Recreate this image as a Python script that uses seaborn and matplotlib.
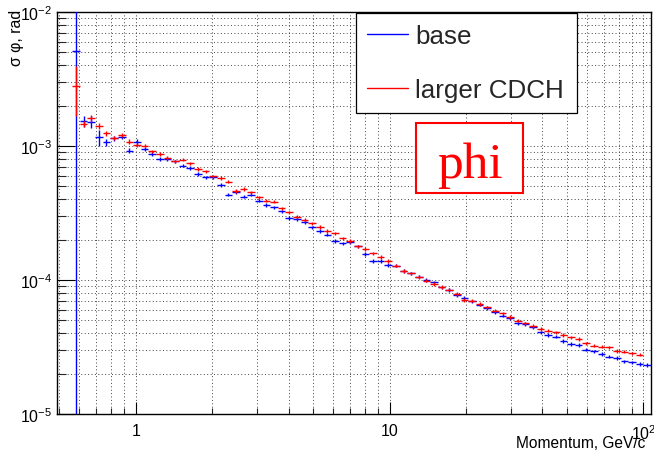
import numpy as np
import matplotlib
matplotlib.use("Agg")
import matplotlib.pyplot as plt
import seaborn as sns
from matplotlib.lines import Line2D
from matplotlib.patches import Rectangle
from matplotlib.ticker import FixedLocator, FixedFormatter, LogLocator, NullFormatter

# ---- binning: logarithmic momentum bins, 0.03 decade wide ----
log_p_first_edge = -0.25
log_bin_width = 0.03
n_bins = 76
edges = 10 ** (log_p_first_edge + log_bin_width * np.arange(n_bins + 1))
centers = np.sqrt(edges[:-1] * edges[1:])

# ---- angular resolution sigma(phi) [rad] per momentum bin ----
base_sigma = [
    5.14e-3, 1.53e-3, 1.52e-3, 1.16e-3, 1.07e-3, 1.14e-3, 1.17e-3, 9.23e-4,
    1.08e-3, 9.51e-4, 8.71e-4, 8.00e-4, 8.00e-4, 7.69e-4, 7.13e-4, 6.85e-4,
    6.18e-4, 5.83e-4, 5.83e-4, 5.14e-4, 4.34e-4, 4.54e-4, 4.19e-4, 4.34e-4,
    3.91e-4, 3.63e-4, 3.49e-4, 3.26e-4, 2.90e-4, 2.85e-4, 2.72e-4, 2.47e-4,
    2.33e-4, 2.18e-4, 1.95e-4, 1.88e-4, 1.93e-4, 1.78e-4, 1.56e-4, 1.39e-4,
    1.39e-4, 1.30e-4, 1.28e-4, 1.17e-4, 1.12e-4, 1.06e-4, 1.00e-4, 9.62e-5,
    8.83e-5, 8.41e-5, 7.73e-5, 7.34e-5, 6.93e-5, 6.55e-5, 6.18e-5, 5.79e-5,
    5.42e-5, 5.18e-5, 4.75e-5, 4.70e-5, 4.44e-5, 4.07e-5, 3.89e-5, 3.78e-5,
    3.52e-5, 3.33e-5, 3.27e-5, 3.02e-5, 2.94e-5, 2.81e-5, 2.68e-5, 2.61e-5,
    2.47e-5, 2.43e-5, 2.36e-5, 2.32e-5,
]
base_rel_err_pct = [
    120, 9, 10, 14, 6, 5, 4, 4, 4, 3, 3, 3, 3, 3, 3, 3,
    3, 3, 3, 3, 3, 3, 3, 3, 3, 3, 3, 3, 3, 3, 3, 3,
    3, 3, 3, 3, 3, 3, 3, 3, 3, 3, 3, 3, 3, 3, 3, 3,
    3, 3, 3, 3, 3, 3, 3, 3, 3, 3, 3, 3, 3, 3, 3, 3,
    3, 3, 3, 3, 3, 3, 3, 3, 3, 3, 3, 3,
]

larger_sigma = [
    2.82e-3, 1.46e-3, 1.62e-3, 1.42e-3, 1.24e-3, 1.15e-3, 1.21e-3, 1.08e-3,
    1.02e-3, 1.005e-3, 9.12e-4, 8.71e-4, 8.13e-4, 7.69e-4, 7.91e-4, 7.43e-4,
    6.73e-4, 6.47e-4, 5.94e-4, 5.77e-4, 5.42e-4, 4.63e-4, 4.78e-4, 4.51e-4,
    4.14e-4, 3.91e-4, 3.84e-4, 3.43e-4, 3.20e-4, 2.96e-4, 2.81e-4, 2.65e-4,
    2.49e-4, 2.33e-4, 2.23e-4, 2.05e-4, 1.96e-4, 1.78e-4, 1.70e-4, 1.58e-4,
    1.49e-4, 1.39e-4, 1.28e-4, 1.17e-4, 1.12e-4, 1.05e-4, 9.89e-5, 9.33e-5,
    8.87e-5, 8.49e-5, 7.87e-5, 7.10e-5, 7.01e-5, 6.62e-5, 6.25e-5, 5.90e-5,
    5.64e-5, 5.32e-5, 4.97e-5, 4.75e-5, 4.54e-5, 4.31e-5, 4.19e-5, 4.07e-5,
    3.89e-5, 3.73e-5, 3.63e-5, 3.37e-5, 3.24e-5, 3.18e-5, 3.15e-5, 2.96e-5,
    2.92e-5, 2.84e-5, 2.77e-5,
]
larger_rel_err_pct = [
    41, 5, 6, 5, 4, 4, 4, 4, 3, 3, 3, 3, 3, 3, 3, 3,
    3, 3, 3, 3, 3, 3, 3, 3, 3, 3, 3, 3, 3, 3, 3, 3,
    3, 3, 3, 3, 3, 3, 3, 3, 3, 3, 3, 3, 3, 3, 3, 3,
    3, 3, 3, 3, 3, 3, 3, 3, 3, 3, 3, 3, 3, 3, 3, 3,
    3, 3, 3, 3, 3, 3, 3, 3, 3, 3, 3,
]

series_names = ["base", "larger CDCH"]
series_colors = {"base": "#0000ff", "larger CDCH": "#ff0000"}

x_tick_values = [1, 10, 100]
x_tick_labels = ["1", "10", r"$10^{2}$"]
y_tick_values = [1e-5, 1e-4, 1e-3, 1e-2]
y_tick_labels = [r"$10^{-5}$", r"$10^{-4}$", r"$10^{-3}$", r"$10^{-2}$"]

# ---- style ----
sns.set_theme(style="white")
plt.rcParams["font.family"] = ["Liberation Sans", "DejaVu Sans"]
plt.rcParams["mathtext.fontset"] = "custom"
plt.rcParams["mathtext.rm"] = "Liberation Sans"
plt.rcParams["mathtext.it"] = "Liberation Sans:italic"
plt.rcParams["mathtext.bf"] = "Liberation Sans:bold"

W, H = 654, 452
fig = plt.figure(figsize=(W / 100, H / 100), dpi=100)
fig.patch.set_facecolor("white")


def fx(px):
    return px / W


def fy(py):
    return 1 - py / H


ax = fig.add_axes([fx(57), fy(415), (651 - 57) / W, (415 - 13) / H])
ax.set_facecolor("white")
ax.set_xscale("log")
ax.set_yscale("log", nonpositive="clip")


def draw_profile(values, rel_err_pct, color, z):
    vals = np.asarray(values)
    n = len(vals)
    lo = edges[:n]
    hi = edges[1:n + 1]
    xc = centers[:n]
    yerr = vals * np.asarray(rel_err_pct) / 100.0
    ax.errorbar(xc, vals, xerr=[xc - lo, hi - xc], yerr=yerr, fmt="none",
                ecolor=color, elinewidth=1.0, capsize=0, zorder=z)


draw_profile(base_sigma, base_rel_err_pct, series_colors["base"], 3)
draw_profile(larger_sigma, larger_rel_err_pct, series_colors["larger CDCH"], 4)

ax.set_xlim(10 ** -0.31, 10 ** 2.03)
ax.set_ylim(1e-5, 1e-2)

ax.xaxis.set_major_locator(FixedLocator(x_tick_values))
ax.xaxis.set_major_formatter(FixedFormatter(x_tick_labels))
ax.yaxis.set_major_locator(FixedLocator(y_tick_values))
ax.yaxis.set_major_formatter(FixedFormatter(y_tick_labels))
for axis in (ax.xaxis, ax.yaxis):
    axis.set_minor_locator(LogLocator(base=10, subs=np.arange(2, 10), numticks=30))
    axis.set_minor_formatter(NullFormatter())

ax.tick_params(axis="x", which="major", direction="in", length=8.6, width=0.8,
               pad=6.5, labelsize=11.4, colors="black", bottom=True, top=False)
ax.tick_params(axis="x", which="minor", direction="in", length=4.3, width=0.8,
               bottom=True, top=False)
ax.tick_params(axis="y", which="major", direction="in", length=12.8, width=0.8,
               pad=3.6, labelsize=11.4, colors="black", left=True, right=False)
ax.tick_params(axis="y", which="minor", direction="in", length=6.4, width=0.8,
               left=True, right=False)

ax.grid(True, which="both", linestyle=(0, (1, 2.5)), color="#444444", linewidth=0.7)
for sp in ax.spines.values():
    sp.set_visible(True)
    sp.set_color("black")
    sp.set_linewidth(1.0)

# ---- axis titles ----
fig.text(fx(645), fy(444), "Momentum, GeV/c", ha="right", va="center",
         fontsize=11.2, color="black")
fig.text(fx(16), fy(10), "σ φ, rad", rotation=90, ha="center", va="top",
         fontsize=11.4, color="black")

# ---- legend ----
handles = [Line2D([], [], color=series_colors[n], lw=1.0) for n in series_names]
leg = ax.legend(handles, series_names, loc="upper left",
                bbox_to_anchor=(fx(355.7), fy(14), (577 - 355.7) / W, 0),
                bbox_transform=fig.transFigure, mode="expand", fontsize=18.7,
                frameon=True, fancybox=False, framealpha=1, edgecolor="black",
                borderpad=0.42, labelspacing=1.15, handlelength=1.58,
                handletextpad=0.28, borderaxespad=0)
leg.get_frame().set_linewidth(0.9)
leg.set_zorder(10)

# ---- "phi" label box ----
fig.add_artist(Rectangle((fx(416), fy(194)), (522.7 - 416) / W, (194 - 124) / H,
                         transform=fig.transFigure, facecolor="white",
                         edgecolor="#ff0000", linewidth=1.5, zorder=5))
fig.text(fx(436.7), fy(178.5), "phi", ha="left", va="baseline",
         fontsize=37, color="#ff0000", family=["Liberation Serif", "DejaVu Serif"],
         zorder=6)

fig.savefig("out.png", dpi=100, facecolor="white")
